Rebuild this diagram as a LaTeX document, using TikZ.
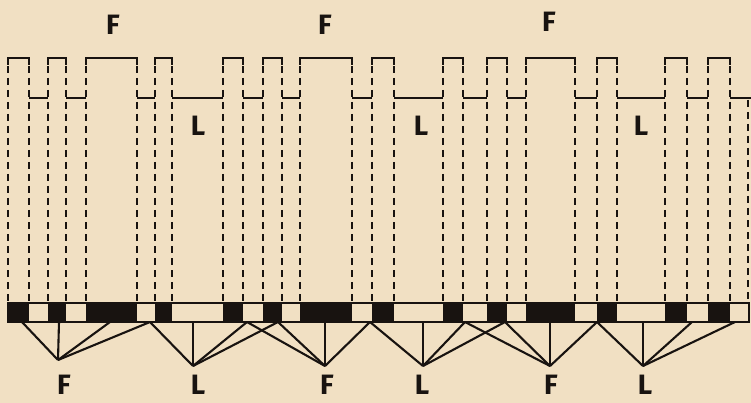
\documentclass[tikz,border=0pt]{standalone}
\usepackage{fontspec}
\setsansfont{Fira Sans}
\definecolor{bg}{RGB}{241,224,195}
\definecolor{ink}{RGB}{24,19,16}
\begin{document}
\begin{tikzpicture}[x=1pt,y=-1pt,
  wave/.style={draw=ink,line width=2.8pt},
  guide/.style={draw=ink,line width=2.2pt,dash pattern=on 7pt off 5pt},
  fan/.style={draw=ink,line width=2.1pt},
  lab/.style={text=ink,font=\sffamily\bfseries\fontsize{28}{28}\selectfont,inner sep=0pt},
  barline/.style={draw=ink,line width=2.6pt}]
\fill[bg] (0,0) rectangle (751,403);
\useasboundingbox (0,0) rectangle (751,403);
% top waveform: high segments, and their black cells in the bar
\foreach \a/\b in {8/29,48/66,86/137,155/172,223/243,263/282,300/352,372/394,443/463,487/507,526/575,597/617,665/687,708/730}
  {\draw[wave] (\a,65) -- (\a,58) -- (\b,58) -- (\b,65);
   \fill[ink] (\a,303) rectangle (\b,322);}
% low segments
\foreach \a/\b in {29/48,66/86,137/155,172/223,243/263,282/300,352/372,394/443,463/487,507/526,575/597,617/665,687/708,730/751}
  {\draw[wave] (\a,98) -- (\b,98);}
% dashed guides
\foreach \x in {8,29,48,66,86,137,155,172,223,243,263,282,300,352,372,394,443,463,487,507,526,575,597,617,665,687,708,730}
  {\draw[guide] (\x,66) -- (\x,303);}
\draw[guide] (748,100) -- (748,303);
% bar outline
\draw[barline] (8,303) rectangle (749,322);
% bottom points
\foreach \p in {22,59,110,150,193,247,278,325,370,423,465,505,550,597,643,692,735}
  {\coordinate (p\p) at (\p,322);}
% vertices and fans
\foreach \n/\vx/\vy/\pa/\pb/\pc/\pd in {F1/58/360/22/59/110/150, L1/193/366/150/193/247/278, F2/325/366/247/278/325/370, L2/423/366/370/423/465/505, F3/550/366/465/505/550/597, L3/643/366/597/643/692/735}
  {\coordinate (v\n) at (\vx,\vy);
   \foreach \p in {\pa,\pb,\pc,\pd} {\draw[fan] (v\n) -- (p\p);}}
% bottom labels
\node[lab] (bF1) at (64,385) {F};
\node[lab] (bL1) at (198,385) {L};
\node[lab] (bF2) at (327,385) {F};
\node[lab] (bL2) at (422,385) {L};
\node[lab] (bF3) at (551,385) {F};
\node[lab] (bL3) at (645,385) {L};
% top labels
\node[lab] (tF1) at (113,25) {F};
\node[lab] (tF2) at (325,25) {F};
\node[lab] (tF3) at (549,22) {F};
\node[lab] (tL1) at (198,126) {L};
\node[lab] (tL2) at (421,126) {L};
\node[lab] (tL3) at (641,126) {L};
\end{tikzpicture}
\end{document}
